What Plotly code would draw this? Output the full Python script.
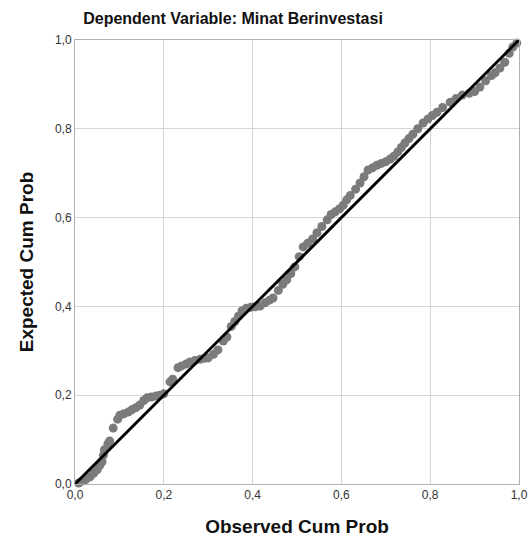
import plotly.graph_objects as go

observed = [0.008, 0.016, 0.024, 0.034, 0.042, 0.050, 0.056, 0.061, 0.064, 0.066,
            0.074, 0.078, 0.086, 0.096, 0.101, 0.110, 0.120, 0.128, 0.137, 0.146,
            0.155, 0.162, 0.172, 0.182, 0.191, 0.200, 0.214, 0.220, 0.232, 0.240,
            0.250, 0.259, 0.270, 0.282, 0.292, 0.300, 0.312, 0.322, 0.334, 0.342,
            0.352, 0.360, 0.368, 0.376, 0.386, 0.396, 0.406, 0.417, 0.428, 0.438,
            0.446, 0.458, 0.468, 0.477, 0.486, 0.495, 0.505, 0.514, 0.524, 0.535,
            0.545, 0.556, 0.568, 0.577, 0.586, 0.596, 0.604, 0.612, 0.620, 0.632,
            0.642, 0.651, 0.660, 0.670, 0.680, 0.690, 0.700, 0.710, 0.718, 0.727,
            0.735, 0.743, 0.752, 0.761, 0.772, 0.784, 0.795, 0.805, 0.815, 0.828,
            0.845, 0.858, 0.872, 0.888, 0.900, 0.912, 0.925, 0.938, 0.946, 0.957,
            0.968, 0.978, 0.986, 0.995]
expected = [0.002, 0.006, 0.010, 0.016, 0.024, 0.032, 0.042, 0.050, 0.065, 0.077,
            0.090, 0.097, 0.126, 0.146, 0.155, 0.158, 0.162, 0.167, 0.172, 0.178,
            0.188, 0.194, 0.196, 0.198, 0.200, 0.203, 0.230, 0.236, 0.262, 0.266,
            0.270, 0.275, 0.278, 0.281, 0.283, 0.284, 0.292, 0.302, 0.322, 0.331,
            0.355, 0.366, 0.378, 0.390, 0.396, 0.398, 0.399, 0.401, 0.408, 0.414,
            0.419, 0.436, 0.450, 0.460, 0.474, 0.489, 0.512, 0.534, 0.542, 0.552,
            0.566, 0.580, 0.595, 0.607, 0.613, 0.620, 0.628, 0.640, 0.650, 0.664,
            0.678, 0.692, 0.707, 0.712, 0.718, 0.722, 0.726, 0.732, 0.738, 0.748,
            0.758, 0.768, 0.778, 0.788, 0.800, 0.813, 0.822, 0.830, 0.837, 0.848,
            0.860, 0.868, 0.876, 0.880, 0.884, 0.894, 0.908, 0.920, 0.926, 0.937,
            0.950, 0.970, 0.984, 0.993]
ref_line = [0.0, 1.0]
tick_vals = [0.0, 0.2, 0.4, 0.6, 0.8, 1.0]
tick_text = ["0,0", "0,2", "0,4", "0,6", "0,8", "1,0"]

FONT = "Liberation Sans, Arial, sans-serif"
W, H = 530, 544

fig = go.Figure()
fig.add_trace(go.Scatter(x=observed, y=expected, mode="markers",
                         marker=dict(color="#7b7b7b", size=9, line=dict(width=0)),
                         showlegend=False, hoverinfo="skip", cliponaxis=False))
fig.add_trace(go.Scatter(x=ref_line, y=ref_line, mode="lines",
                         line=dict(color="black", width=3),
                         showlegend=False, hoverinfo="skip", cliponaxis=False))

axis_common = dict(range=[0, 1], tickvals=tick_vals, ticktext=tick_text,
                   showgrid=True, gridcolor="#d6d6d6", gridwidth=1,
                   showline=True, linecolor="#b0b0b0", linewidth=1, mirror=True,
                   zeroline=False, ticks="", fixedrange=True, automargin=False,
                   tickfont=dict(family=FONT, size=12, color="#333"))

fig.update_layout(
    width=W, height=H,
    margin=dict(l=75, r=11, t=40, b=60, autoexpand=False),
    paper_bgcolor="white", plot_bgcolor="white",
    title=dict(text="<b>Dependent Variable: Minat Berinvestasi</b>",
               x=233 / W, xanchor="center", xref="container",
               y=1 - 18 / H, yanchor="middle", yref="container",
               font=dict(family=FONT, size=16, color="#111")),
    xaxis=dict(axis_common,
               title=dict(text="<b>Observed Cum Prob</b>", standoff=18,
                          font=dict(family=FONT, size=19, color="#111"))),
    yaxis=dict(axis_common,
               title=dict(text="<b>Expected Cum Prob</b>", standoff=16,
                          font=dict(family=FONT, size=19, color="#111"))),
)

post = ("document.documentElement.style.overflow='hidden';"
        "document.body.style.margin='0';document.body.style.overflow='hidden';")

fig.write_html("out.html", post_script=post, config={"displayModeBar": False})
